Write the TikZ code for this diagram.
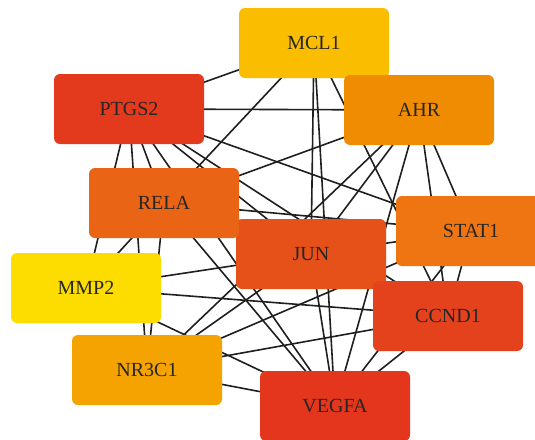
\documentclass[tikz,border=0pt]{standalone}
\usepackage{fontspec}
\setmainfont{Liberation Serif}
\usetikzlibrary{backgrounds}
\definecolor{cmcl}{HTML}{FBBD00}
\definecolor{cptgs}{HTML}{E3391C}
\definecolor{cahr}{HTML}{F08C02}
\definecolor{crela}{HTML}{EA6415}
\definecolor{cstat}{HTML}{EE7511}
\definecolor{cjun}{HTML}{E65119}
\definecolor{cmmp}{HTML}{FDDC00}
\definecolor{cccnd}{HTML}{E4411D}
\definecolor{cnr}{HTML}{F5A300}
\definecolor{cvegf}{HTML}{E3361C}
\begin{document}
\begin{tikzpicture}[x=1pt, y=-1pt,
  gene/.style={rounded corners=6pt, minimum width=150pt, minimum height=70pt,
    inner sep=0pt, text=black!85, font=\fontsize{20}{24}\selectfont},
  link/.style={line width=1.6pt, black!88}]
  \useasboundingbox (0,0) rectangle (535,439);
  \node[gene, fill=cmcl] (mcl1) at (314,43) {MCL1};
  \node[gene, fill=cptgs] (ptgs2) at (129,109) {PTGS2};
  \node[gene, fill=cahr] (ahr) at (419,110) {AHR};
  \node[gene, fill=cstat] (stat1) at (471,231) {STAT1};
  \node[gene, fill=cjun] (jun) at (311,254) {JUN};
  \node[gene, fill=crela] (rela) at (164,203) {RELA};
  \node[gene, fill=cmmp] (mmp2) at (86,288) {MMP2};
  \node[gene, fill=cccnd] (ccnd1) at (448,316) {CCND1};
  \node[gene, fill=cnr] (nr3c1) at (147,370) {NR3C1};
  \node[gene, fill=cvegf] (vegfa) at (335,406) {VEGFA};
  \begin{pgfonlayer}{background}
    \foreach \a/\b in {ptgs2/mcl1, ptgs2/ahr, ptgs2/rela, ptgs2/mmp2, ptgs2/nr3c1,
        ptgs2/jun, ptgs2/vegfa, ptgs2/ccnd1, ptgs2/stat1,
        mcl1/rela, mcl1/jun, mcl1/vegfa, mcl1/ccnd1,
        ahr/rela, ahr/nr3c1, ahr/jun, ahr/vegfa, ahr/ccnd1, ahr/stat1,
        rela/mmp2, rela/nr3c1, rela/vegfa, rela/stat1,
        mmp2/jun, mmp2/ccnd1, mmp2/vegfa,
        nr3c1/jun, nr3c1/stat1, nr3c1/ccnd1, nr3c1/vegfa,
        jun/vegfa, jun/stat1, stat1/ccnd1, stat1/vegfa, ccnd1/vegfa}
      \draw[link] (\a.center) -- (\b.center);
  \end{pgfonlayer}
\end{tikzpicture}
\end{document}
